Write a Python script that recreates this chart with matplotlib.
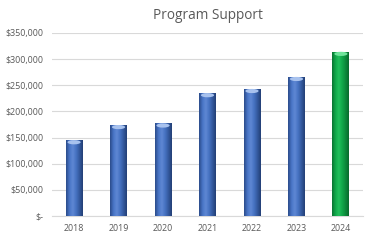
import matplotlib
matplotlib.use("Agg")
import matplotlib.pyplot as plt
import numpy as np
from matplotlib.ticker import FuncFormatter
from matplotlib.colors import LinearSegmentedColormap
from matplotlib.patches import Ellipse

years = ["2018", "2019", "2020", "2021", "2022", "2023", "2024"]
values = [145000, 174000, 177000, 235000, 243000, 266000, 314000]
highlight = "2024"

plt.rcParams['font.family'] = ['Open Sans', 'DejaVu Sans']

fig = plt.figure(figsize=(3.65, 2.46), dpi=100)
ax = fig.add_axes([0.142, 0.122, 0.853, 0.744])

x = np.arange(len(years))
width = 0.38
blue_cmap = LinearSegmentedColormap.from_list("b", ["#2A4A88", "#4874C6", "#5F88D4", "#4672C2", "#34599E", "#233F75"])
green_cmap = LinearSegmentedColormap.from_list("g", ["#0A7332", "#10A84A", "#22C05C", "#10A84A", "#0C8A3C", "#086A2C"])

bars = ax.bar(x, values, width=width, color="#4472C4", zorder=2, linewidth=0)
grad = np.linspace(0, 1, 64).reshape(1, -1)
for xi, b, yr, v in zip(x, bars, years, values):
    cmap = green_cmap if yr == highlight else blue_cmap
    im = ax.imshow(grad, cmap=cmap, aspect="auto",
                   extent=(b.get_x(), b.get_x() + b.get_width(), 0, v),
                   zorder=3, interpolation="bicubic")
    im.set_clip_path(b)
    cap_col = "#6FE39A" if yr == highlight else "#A8C2EE"
    cap = Ellipse((xi, v - 4000), width * 0.78, 8000, facecolor=cap_col,
                  edgecolor="none", zorder=4)
    ax.add_patch(cap)

ax.set_xlim(-0.5, len(years) - 0.5)
ax.set_ylim(0, 350000)
ax.set_yticks(np.arange(0, 350001, 50000))
ax.yaxis.set_major_formatter(FuncFormatter(lambda v, p: "$-" if v == 0 else f"${v:,.0f}"))
ax.set_xticks(x)
ax.set_xticklabels(years)
ax.grid(axis="y", color="#D9D9D9", linewidth=0.8, zorder=0)
ax.set_axisbelow(True)
for s in ["top", "right", "left"]:
    ax.spines[s].set_visible(False)
ax.spines["bottom"].set_color("#D9D9D9")
ax.tick_params(axis="both", length=0, labelsize=6.4, colors="#595959", pad=6)
ax.set_title("Program Support", fontsize=9.8, color="#595959", pad=10)

fig.savefig("out.png", dpi=100)
